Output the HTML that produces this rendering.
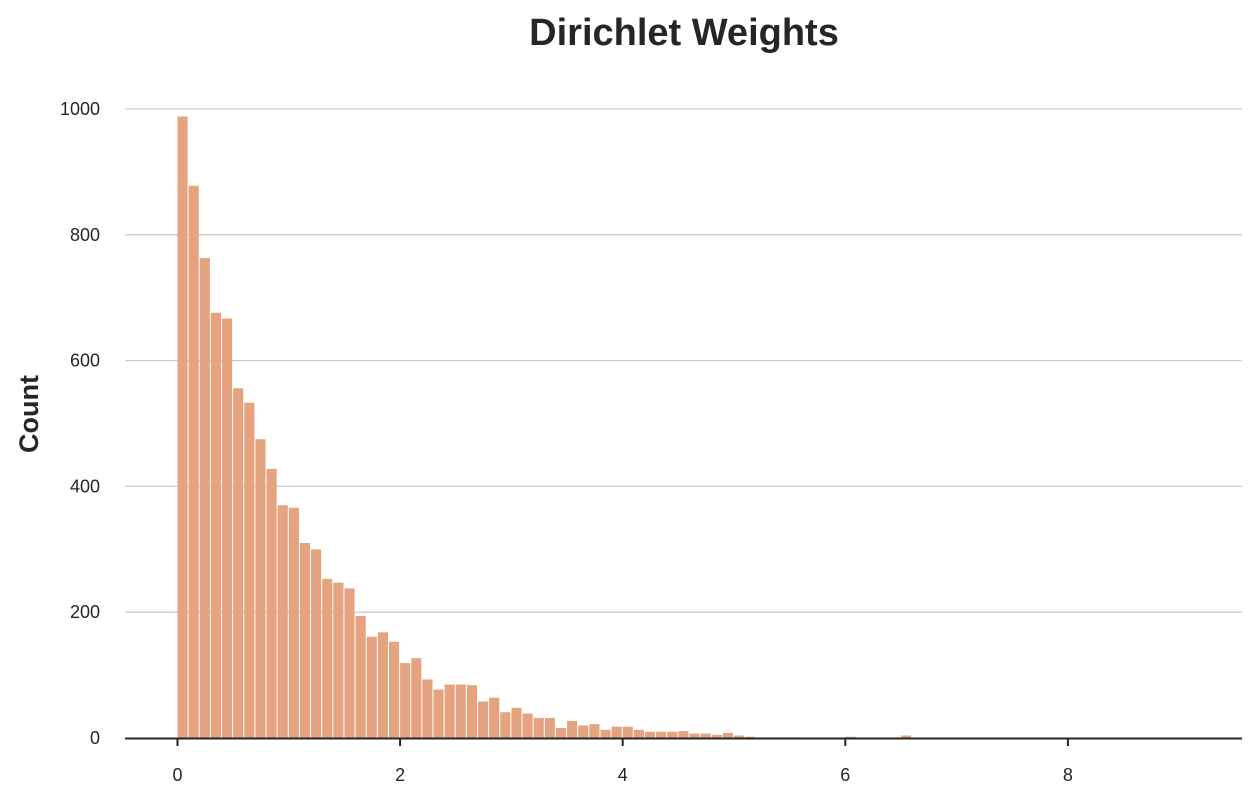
<!DOCTYPE html>
<html><head><meta charset="utf-8"><style>
body{margin:0;background:#fff;font-family:"Liberation Sans",Arial,sans-serif}
</style></head><body>
<svg id="chart" width="1256" height="798" xmlns="http://www.w3.org/2000/svg">
<text x="684" y="45" text-anchor="middle" font-size="38" font-weight="bold" fill="#262626" font-family="Liberation Sans, Arial, sans-serif">Dirichlet Weights</text>
<text transform="translate(38,414) rotate(-90)" text-anchor="middle" font-size="27" font-weight="bold" fill="#262626" font-family="Liberation Sans, Arial, sans-serif">Count</text>
<g id="grid"></g><g id="bars"></g><g id="axes"></g>
</svg>
<script>
const binStarts=[0,0.1,0.2,0.3,0.4,0.5,0.6,0.7,0.8,0.9,1.0,1.1,1.2,1.3,1.4,1.5,1.6,1.7,1.8,1.9,2.0,2.1,2.2,2.3,2.4,2.5,2.6,2.7,2.8,2.9,3.0,3.1,3.2,3.3,3.4,3.5,3.6,3.7,3.8,3.9,4.0,4.1,4.2,4.3,4.4,4.5,4.6,4.7,4.8,4.9,5.0,5.1,5.2,5.3,5.4,5.5,5.6,5.7,5.8,5.9,6.0,6.1,6.2,6.3,6.4,6.5];
const counts=[988,878,763,676,667,556,533,475,428,370,366,310,300,253,247,238,194,161,168,153,119,127,93,77,85,85,84,58,64,41,48,39,32,32,16,27,20,22,13,18,18,13,10,10,10,11,7,7,5,8,4,2,1,1,1,1,0,0,0,0,2,0,0,0,0,4];
const binWidth=0.1;
const yTicks=[0,200,400,600,800,1000];
const xTicks=[0,2,4,6,8];
const NS="http://www.w3.org/2000/svg";
const xs=v=>177.5+v*111.3;
const ys=v=>738-v*0.629;
function mk(tag,attrs,parent){const e=document.createElementNS(NS,tag);for(const k in attrs)e.setAttribute(k,attrs[k]);parent.appendChild(e);return e;}
const grid=document.getElementById('grid'),bars=document.getElementById('bars'),axes=document.getElementById('axes');
yTicks.forEach(t=>{
 if(t>0){const l=mk('line',{x1:125,x2:1242,y1:ys(t),y2:ys(t),stroke:'#cccccc','stroke-width':1.3},grid);
 
 }
 const tx=mk('text',{x:100,y:ys(t)+6,'text-anchor':'end','font-size':18,fill:'#262626'},axes);
 tx.textContent=t;
 
 
});
binStarts.forEach((b,i)=>{
 if(counts[i]<=0)return;
 const x0=xs(b),x1=xs(b+binWidth);
 const r=mk('rect',{x:x0,y:ys(counts[i]),width:x1-x0-1,height:ys(0)-ys(counts[i]),fill:'#e5a37f'},bars);
 
 
});
const ax=mk('line',{x1:125,x2:1242,y1:738.5,y2:738.5,stroke:'#262626','stroke-width':2},axes);


xTicks.forEach(t=>{
 const tk=mk('line',{x1:xs(t),x2:xs(t),y1:738,y2:746,stroke:'#262626','stroke-width':2},axes);
 
 
 const tx=mk('text',{x:xs(t),y:781,'text-anchor':'middle','font-size':18,fill:'#262626'},axes);
 tx.textContent=t;
 
 
});
</script>
</body></html>
